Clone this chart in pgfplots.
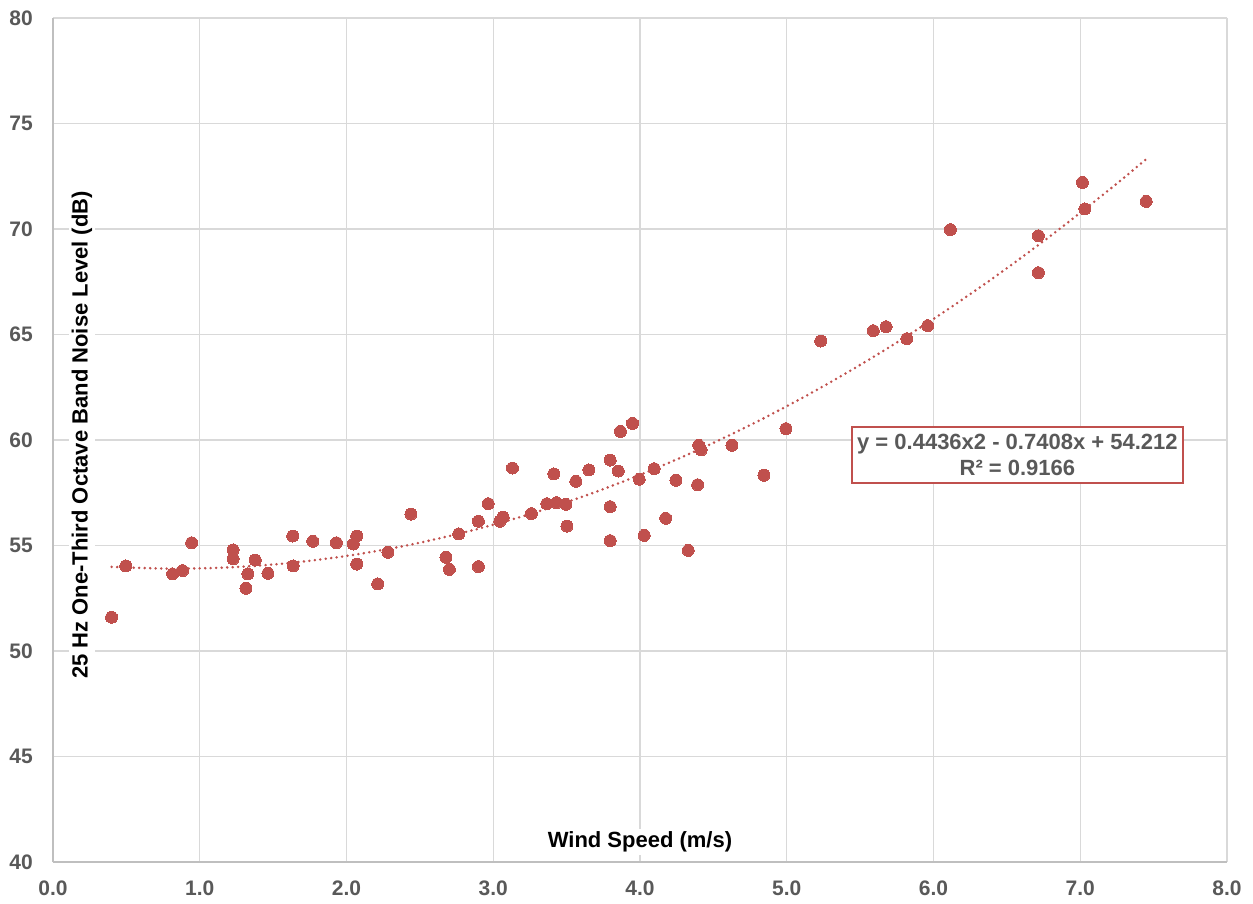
\documentclass[border=0pt]{standalone}
\usepackage{fontspec}
\setmainfont{Liberation Sans}
\usepackage{pgfplots}
\pgfplotsset{compat=1.18}
\definecolor{ptred}{RGB}{192,80,77}
\definecolor{tickgray}{RGB}{89,89,89}
\definecolor{gridgray}{RGB}{217,217,217}
\definecolor{axisgray}{RGB}{191,191,191}
\begin{document}
\begin{tikzpicture}
\begin{axis}[
  scale only axis, width=1174pt, height=844pt,
  xmin=0, xmax=8, ymin=40, ymax=80,
  xtick={0,1,...,8}, ytick={40,45,...,80},
  grid=major,
  major grid style={draw=gridgray, line width=1.3pt},
  axis x line=bottom, axis y line=left,
  axis line style={-, draw=axisgray, line width=1.6pt},
  major tick length=0pt,
  /pgf/number format/assume math mode=true,
  xticklabel style={/pgf/number format/.cd, fixed, precision=1, fixed zerofill, /tikz/.cd,
    anchor=center, yshift=-26pt, text=tickgray, font=\bfseries\fontsize{21}{25}\selectfont},
  yticklabel style={anchor=east, inner sep=0pt, xshift=-20pt, text=tickgray, font=\bfseries\fontsize{21}{25}\selectfont},
  xlabel={Wind Speed (m/s)},
  xlabel style={at={(axis description cs:0.5,0.0237)}, anchor=center, fill=white, inner sep=3pt, font=\bfseries\fontsize{22}{26}\selectfont, text=black},
  ylabel={25 Hz One-Third Octave Band Noise Level (dB)},
  ylabel style={at={(axis description cs:0.0247,0.506)}, anchor=center, rotate=0, fill=white, inner sep=3pt, font=\bfseries\fontsize{22}{26}\selectfont, text=black},
  clip=false,
]
\addplot[color=ptred, only marks, mark=*, mark size=6pt, mark options={solid, fill=ptred, draw=ptred, line width=0pt}] coordinates {
(0.399,51.60) (0.496,54.03) (0.815,53.65) (0.883,53.81) (0.945,55.13)
(1.228,54.79) (1.228,54.37) (1.315,52.97) (1.328,53.65) (1.378,54.31)
(1.465,53.68) (1.634,55.45) (1.636,54.03) (1.770,55.20) (1.931,55.13)
(2.047,55.07) (2.070,55.45) (2.070,54.12) (2.213,53.18) (2.282,54.68)
(2.439,56.49) (2.678,54.44) (2.701,53.87) (2.765,55.55) (2.899,56.15)
(2.899,54.00) (2.966,56.98) (3.045,56.15) (3.068,56.34) (3.131,58.67)
(3.260,56.51) (3.365,56.98) (3.413,58.39) (3.431,57.03) (3.495,56.95)
(3.502,55.92) (3.563,58.04) (3.652,58.58) (3.797,59.05) (3.797,56.84)
(3.797,55.23) (3.852,58.53) (3.867,60.41) (3.949,60.79) (3.995,58.14)
(4.029,55.48) (4.097,58.64) (4.175,56.29) (4.245,58.09) (4.329,54.77)
(4.400,59.75) (4.416,59.53) (4.393,57.88) (4.627,59.75) (4.845,58.33)
(4.995,60.54) (5.232,64.69) (5.590,65.18) (5.677,65.37) (5.818,64.80)
(5.961,65.42) (6.115,69.97) (6.715,69.68) (6.715,67.93) (7.015,72.21)
(7.032,70.95) (7.450,71.31)
};
\addplot[ptred, line width=2.8pt, line cap=round, dash pattern=on 0pt off 5.5pt, smooth] coordinates {
(0.40,53.987) (0.80,53.903) (1.20,53.962) (1.60,54.162) (2.00,54.505)
(2.40,54.989) (2.80,55.616) (3.20,56.384) (3.60,57.294) (4.00,58.346)
(4.40,59.541) (4.80,60.877) (5.20,62.355) (5.60,63.975) (6.00,65.737)
(6.40,67.641) (6.80,69.687) (7.20,71.874) (7.45,73.314)
};
\node[draw=ptred, line width=1.2pt, fill=white, align=center, text=tickgray,
  font=\bfseries\fontsize{22}{26}\selectfont, minimum width=331pt, minimum height=56pt, inner sep=2pt]
  at (axis cs:6.572,59.29) {y = 0.4436x2 - 0.7408x + 54.212\\R² = 0.9166};
\end{axis}
\pgfresetboundingbox
\path (-53pt,-41pt) rectangle (1200pt,862pt);
\end{tikzpicture}
\end{document}
